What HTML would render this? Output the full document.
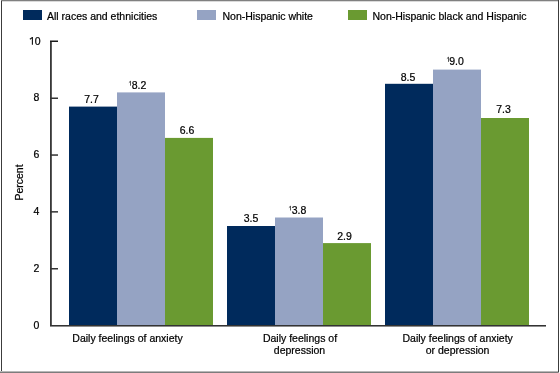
<!DOCTYPE html>
<html><head><meta charset="utf-8">
<style>
html,body{margin:0;padding:0;background:#fff;}
body{width:560px;height:373px;overflow:hidden;position:relative;}
svg{position:absolute;left:0;top:0;will-change:transform;}
text{font-family:"Liberation Sans",sans-serif;font-size:10.5px;fill:#000;stroke:#000;stroke-width:0.22px;}
</style></head><body>
<svg width="560" height="373" viewBox="0 0 560 373">
<!-- border -->
<rect x="1" y="0" width="558" height="1" fill="#808080"/>
<rect x="2" y="1" width="556" height="1" fill="#dadada"/>
<rect x="1" y="1" width="1" height="370" fill="#3c3c3c"/>
<rect x="558" y="0" width="1" height="372" fill="#3c3c3c"/>
<rect x="0" y="371" width="558" height="1" fill="#b8b8b8"/>
<rect x="558" y="372" width="1" height="1" fill="#a0a0a0"/>
<rect x="0" y="372" width="558" height="1" fill="#7c7c7c"/>
<!-- legend -->
<rect x="23" y="10" width="19" height="10" fill="#002a5c"/>
<text x="47" y="20">All races and ethnicities</text>
<rect x="197" y="10" width="19" height="10" fill="#95a3c3"/>
<text x="222.5" y="20">Non-Hispanic white</text>
<rect x="348" y="10" width="19" height="10" fill="#6a9a31"/>
<text x="372.5" y="20">Non-Hispanic black and Hispanic</text>
<!-- bars -->
<rect x="69" y="106.6" width="48" height="218.9" fill="#002a5c"/>
<rect x="117" y="92.4" width="48" height="233.1" fill="#95a3c3"/>
<rect x="165" y="137.9" width="48" height="187.6" fill="#6a9a31"/>
<rect x="227" y="226" width="48" height="99.5" fill="#002a5c"/>
<rect x="275" y="217.5" width="48" height="108" fill="#95a3c3"/>
<rect x="323" y="243.1" width="48" height="82.4" fill="#6a9a31"/>
<rect x="385" y="83.8" width="48" height="241.7" fill="#002a5c"/>
<rect x="433" y="69.6" width="48" height="255.9" fill="#95a3c3"/>
<rect x="481" y="118" width="48" height="207.5" fill="#6a9a31"/>
<!-- axes -->
<rect x="50" y="41" width="1" height="285" fill="#383838"/>
<rect x="51" y="41" width="1" height="285" fill="#5c5c5c"/>
<rect x="50" y="325" width="496" height="1" fill="#333"/>
<rect x="50" y="326" width="496" height="1" fill="#8c8c8c"/>
<rect x="50" y="40.5" width="8" height="1.5" fill="#1a1a1a"/>
<rect x="50" y="97.5" width="8" height="1.5" fill="#333"/>
<rect x="50" y="154.3" width="8" height="1.5" fill="#333"/>
<rect x="50" y="211.1" width="8" height="1.5" fill="#333"/>
<rect x="50" y="268" width="8" height="1.5" fill="#333"/>
<!-- y labels -->
<text x="40.5" y="44.7" text-anchor="end">0</text>
<path d="M32.4,37 V44.7 M32.4,37.4 L29.9,39.3" stroke="#111" stroke-width="1.1" fill="none"/>
<text x="39.4" y="101.4" text-anchor="end">8</text>
<text x="39.4" y="158" text-anchor="end">6</text>
<text x="39.4" y="214.5" text-anchor="end">4</text>
<text x="39.4" y="271.8" text-anchor="end">2</text>
<text x="39.4" y="328.5" text-anchor="end">0</text>
<text transform="translate(22.7,182.5) rotate(-90)" text-anchor="middle">Percent</text>
<!-- value labels -->
<text x="91.5" y="103" text-anchor="middle">7.7</text>
<text x="139" y="89" text-anchor="middle">8.2</text>
<text x="187" y="134.2" text-anchor="middle">6.6</text>
<text x="251" y="222.1" text-anchor="middle">3.5</text>
<text x="299" y="213.7" text-anchor="middle">3.8</text>
<text x="344.5" y="240" text-anchor="middle">2.9</text>
<text x="408" y="80.5" text-anchor="middle">8.5</text>
<text x="456.6" y="65.1" text-anchor="middle">9.0</text>
<text x="503.6" y="113" text-anchor="middle">7.3</text>
<!-- superscripts -->
<path d="M130.5,81 V85.7 M130.5,81.2 L128.9,82.6" stroke="#444" stroke-width="0.9" fill="none"/>
<path d="M290.5,206 V210.5 M290.5,206.2 L288.9,207.6" stroke="#444" stroke-width="0.9" fill="none"/>
<path d="M448.5,57 V61.9 M448.5,57.2 L446.9,58.6" stroke="#444" stroke-width="0.9" fill="none"/>
<!-- x labels -->
<text x="127.5" y="341.7" text-anchor="middle">Daily feelings of anxiety</text>
<text x="300" y="341.7" text-anchor="middle">Daily feelings of</text>
<text x="299.5" y="353.6" text-anchor="middle">depression</text>
<text x="457.7" y="341.7" text-anchor="middle">Daily feelings of anxiety</text>
<text x="457.6" y="353.6" text-anchor="middle">or depression</text>
</svg>
</body></html>
